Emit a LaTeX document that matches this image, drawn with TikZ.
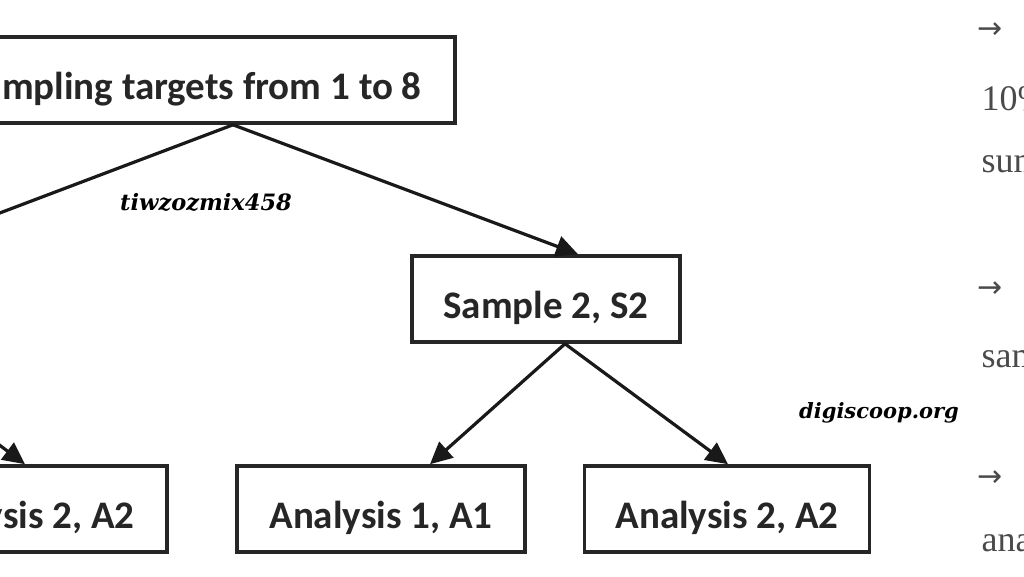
\documentclass[tikz,border=0pt]{standalone}
\usepackage{fontspec}
\newfontfamily\boxfont{Carlito}
\newfontfamily\wmfont{DejaVu Serif}
\newfontfamily\sidefont{Liberation Serif}
\newfontfamily\arrowfont{DejaVu Sans}
\usetikzlibrary{arrows.meta,calc}
\definecolor{sidegrey}{HTML}{4A4A4A}
\tikzset{
  box/.style={draw=black!85, line width=3.6pt, fill=white, inner sep=0pt,
    minimum height=86pt, text height=38pt, text depth=0pt,
    font=\boxfont\bfseries\fontsize{39}{44}\selectfont, text=black!85},
  conn/.style={line width=3.2pt, draw=black!90, -{Triangle[length=22pt,width=21pt]}},
  wm/.style={font=\wmfont\bfseries\itshape\fontsize{21}{26}\selectfont, text=black},
  side/.style={anchor=base west, text=sidegrey, font=\sidefont\fontsize{36}{40}\selectfont},
  sidearrow/.style={anchor=west, text=sidegrey, font=\arrowfont\fontsize{30}{36}\selectfont}
}
\begin{document}
\begin{tikzpicture}[x=1pt,y=-1pt]
\useasboundingbox (0,0) rectangle (1024,576);
\clip (0,0) rectangle (1024,576);
\fill[white] (0,0) rectangle (1024,576);
% boxes
\node[box, minimum width=524pt] (top) at (193,80) {Sampling targets from 1 to 8};
\node[box, minimum width=268pt] (s2) at (546,299) {Sample 2, S2};
\node[box, minimum width=288pt] (la2) at (23,509) {Analysis 2, A2};
\node[box, minimum width=288pt] (a1) at (381,509) {Analysis 1, A1};
\node[box, minimum width=285pt] (a2) at (727,509) {Analysis 2, A2};
% off-canvas ends
\coordinate (s1top) at (-114,256);
\coordinate (s1bot) at (-138,342);
% connectors
\draw[conn] ($(top.south)+(40,0)$) -- ($(s2.north)+(32,0)$);
\draw[conn] ($(top.south)+(40,0)$) -- (s1top);
\draw[conn] ($(s2.south)+(19,0)$) -- ($(a1.north)+(49,0)$);
\draw[conn] ($(s2.south)+(19,0)$) -- ($(a2.north)+(1,0)$);
\draw[conn] (s1bot) -- ($(la2.north)+(2,0)$);
% watermarks
\node[wm, font=\wmfont\bfseries\itshape\fontsize{22.5}{26}\selectfont] (wm1) at (206,202) {tiwzozmix458};
\node[wm] (wm2) at (879,413) {digiscoop.org};
% right column text
\node[sidearrow] (ar1) at (974,31) {→};
\node[side] (t1) at (978,110) {10\%};
\node[side] (t2) at (978,172) {sum};
\node[sidearrow] (ar2) at (974,290) {→};
\node[side] (t3) at (978,367) {sam};
\node[sidearrow] (ar3) at (974,479) {→};
\node[side] (t4) at (978,551) {ana};
\end{tikzpicture}
\end{document}
